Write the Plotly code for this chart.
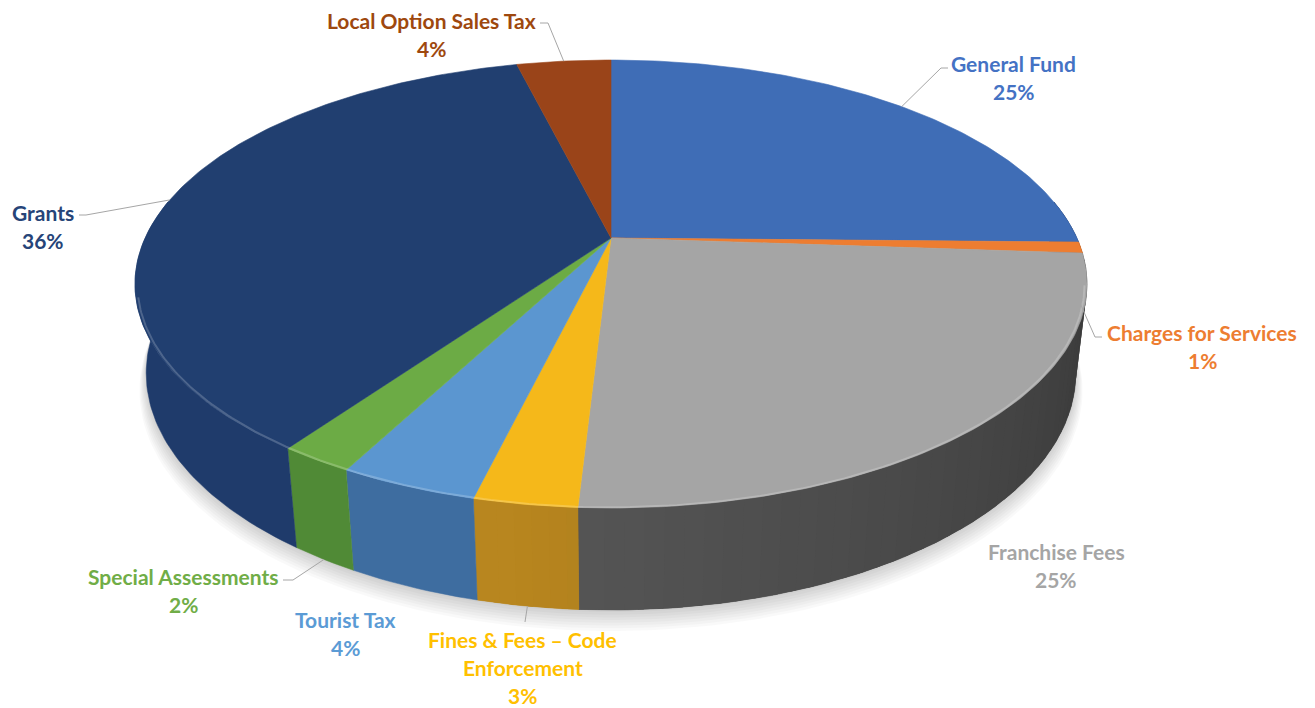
import math
import textwrap
import numpy as np
import plotly.graph_objects as go

# ---------------- data ----------------
categories = [
    "General Fund",
    "Charges for Services",
    "Franchise Fees",
    "Fines & Fees – Code Enforcement",
    "Tourist Tax",
    "Special Assessments",
    "Grants",
    "Local Option Sales Tax",
]
values = [25.3, 0.8, 24.8, 2.9, 3.9, 2.1, 36.3, 3.9]

# ---------------- styles ----------------
top_colors = ["#3f6db6", "#ed7d31", "#a5a5a5", "#f5b81a", "#5b96d0", "#6cab45", "#213f70", "#9a4419"]
side_colors = ["#2f5597", "#b85f22", "#575757", "#b8861f", "#3e6da0", "#508a36", "#1f3b6b", "#7a3512"]
label_colors = ["#4472c4", "#ed7d31", "#a5a5a5", "#ffc000", "#5b9bd5", "#70ad47", "#264478", "#9e480e"]

# label placement (center x, first-line center y) in page pixels
label_pos = [(1013.5, 63.5), (1202, 332.5), (1056, 551.5), (522.5, 639),
             (345, 619.5), (183, 576.5), (43, 212), (431.5, 20.5)]
line_gap = 28
# leader lines: label-side start, elbow, and depth fraction of the pie anchor
leader_start = [(948, 68), (1102, 337), None, (525, 622), None, (283, 580), (79, 215), (540, 23)]
leader_elbow = [(941, 68), (1095, 337), None, (525, 622), None, (293, 580), (86, 215), (548, 23)]
leader_depth = [0.0, 0.5, None, 1.0, None, 1.0, 0.0, 0.0]

W, H_PX = 1315, 708

# ---------------- 3D projection ----------------
CX, CY = 611.0, 238.0
F = 2013.0
D = 4.321
SIN_E, COS_E = 0.4605, 0.8877
THICK = 0.2168


def proj(theta_deg, r=1.0, z=0.0):
    t = np.radians(np.asarray(theta_deg, dtype=float))
    x = r * np.cos(t)
    y = r * np.sin(t)
    den = D + y * COS_E - z * SIN_E
    X = CX + F * x / den
    Y = CY - F * (y * SIN_E + z * COS_E) / den
    return X, Y


def shade(hexcol, k):
    h = hexcol.lstrip("#")
    r, g, b = (int(h[i:i + 2], 16) for i in (0, 2, 4))
    return "rgb({},{},{})".format(int(r * k), int(g * k), int(b * k))


def light(theta):
    if theta <= -100:
        return 1.0
    return max(0.68, 1.0 - 0.32 * (theta + 100) / 85.0)


def side_poly(t_hi, t_lo, npts):
    ts = np.linspace(t_hi, t_lo, npts)
    tx, ty = proj(ts, 1.0, 0.0)
    bx, by = proj(ts[::-1], 1.0, -THICK)
    return (np.concatenate([tx, bx, tx[:1]]), np.concatenate([ty, by, ty[:1]]))


# slice angles (clockwise from 12 o'clock)
total = sum(values)
starts, ends = [], []
a = 90.0
for v in values:
    span = v / total * 360.0
    starts.append(a)
    ends.append(a - span)
    a -= span

fig = go.Figure()

# soft shadow
tt = np.linspace(-200, 20, 140)
for k in range(8):
    off = 2 + 2 * k
    sx, sy = proj(tt, 1.0 + 0.002 * k, -THICK)
    bx, by = proj(tt[::-1], 0.9, -THICK)
    fig.add_trace(go.Scatter(
        x=np.concatenate([sx, bx]), y=np.concatenate([sy + off, by]),
        fill="toself", fillcolor="rgba(0,0,0,0.022)", line=dict(width=0),
        mode="lines", hoverinfo="skip", showlegend=False))

# side walls: a base wall per slice, then overlapping gradient strips
back, front = [], []
for i in range(len(values)):
    lo = max(ends[i], -190.0)
    hi = min(starts[i], 10.0)
    if hi <= lo:
        continue
    px, py = side_poly(hi, lo, max(4, int((hi - lo) / 1.0)))
    col = shade(side_colors[i], light(0.5 * (hi + lo)) if hi > -100 else 1.0)
    base = go.Scatter(x=px, y=py, fill="toself", fillcolor=col,
                      line=dict(color=col, width=0.5), mode="lines",
                      hoverinfo="skip", showlegend=False)
    mid_all = 0.5 * (hi + lo)
    (front if math.sin(math.radians(mid_all)) < -0.26 else back).append(base)
    if hi > -100:
        n = int(math.ceil((hi - lo) / 2.0))
        edges = np.linspace(hi, lo, n + 1)
        for j in range(n):
            t0, t1 = edges[j], edges[j + 1]
            t0e = min(hi, t0 + 0.6)
            mid = 0.5 * (t0 + t1)
            c2 = shade(side_colors[i], light(mid))
            sx, sy = side_poly(t0e, t1, 4)
            tr = go.Scatter(x=sx, y=sy, fill="toself", fillcolor=c2,
                            line=dict(width=0), mode="lines",
                            hoverinfo="skip", showlegend=False)
            visible = math.sin(math.radians(mid)) < -1.0 / (D * COS_E)
            (front if visible else back).append(tr)
for tr in back + front:
    fig.add_trace(tr)

# top faces
for i, name in enumerate(categories):
    n = max(3, int(math.ceil((starts[i] - ends[i]) / 0.8)))
    ts = np.linspace(starts[i], ends[i], n)
    ax, ay = proj(ts, 1.0, 0.0)
    x = np.concatenate([[CX], ax, [CX]])
    y = np.concatenate([[CY], ay, [CY]])
    fig.add_trace(go.Scatter(
        x=x, y=y, fill="toself", fillcolor=top_colors[i],
        line=dict(color=top_colors[i], width=0.6), mode="lines",
        name=name, hoverinfo="text",
        text="{}: {}%".format(name, round(values[i])), showlegend=False))

# subtle bevel highlight on the front rim
rt = np.linspace(-165, -12, 200)
rx, ry = proj(rt, 0.995, 0.0)
fig.add_trace(go.Scatter(x=rx, y=ry + 1, mode="lines",
                         line=dict(color="rgba(255,255,255,0.2)", width=2),
                         hoverinfo="skip", showlegend=False))

# leader lines
for i in range(len(values)):
    if leader_start[i] is None:
        continue
    mid = 0.5 * (starts[i] + ends[i])
    axp, ayp = proj(mid, 1.0, -THICK * leader_depth[i])
    fig.add_trace(go.Scatter(
        x=[leader_start[i][0], leader_elbow[i][0], float(axp)],
        y=[leader_start[i][1], leader_elbow[i][1], float(ayp)],
        mode="lines", line=dict(color="#a6a6a6", width=1),
        hoverinfo="skip", showlegend=False))

# labels
annotations = []
for i, name in enumerate(categories):
    lines = textwrap.wrap(name, 22) + ["{}%".format(round(values[i]))]
    x0, y0 = label_pos[i]
    for k, ln in enumerate(lines):
        annotations.append(dict(
            x=x0, y=y0 + k * line_gap, xref="x", yref="y", text=ln,
            showarrow=False, xanchor="center", yanchor="middle", borderpad=0,
            font=dict(family="Lato", size=21, color=label_colors[i], weight="bold")))

fig.update_layout(
    width=W, height=H_PX, autosize=False,
    margin=dict(l=0, r=0, t=0, b=0),
    paper_bgcolor="white", plot_bgcolor="white",
    xaxis=dict(range=[0, W], visible=False, fixedrange=True),
    yaxis=dict(range=[H_PX, 0], visible=False, fixedrange=True),
    annotations=annotations, showlegend=False,
)

fig.write_html("out.html", config={"displayModeBar": False},
               post_script="document.body.style.margin='0';document.body.style.overflow='hidden';")
